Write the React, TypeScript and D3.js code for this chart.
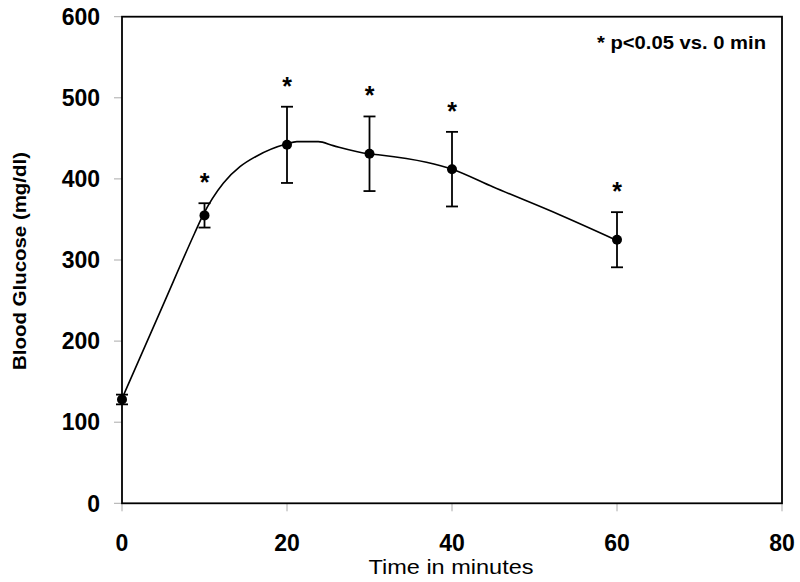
import React from 'react';
import * as d3 from 'd3';

// Measured data (mean ± SEM)
const times = [0, 10, 20, 30, 40, 60];
const meanGlucose = [128, 355, 442, 431, 412, 325];
const semGlucose = [6, 15, 47, 46, 46, 34];
const significant = [false, true, true, true, true, true];

// Smoothed trend line
const fitTimes = [0, 5, 8.8, 9.8, 12.3, 14.3, 16.3, 19.9, 21.2, 23.8, 25.6, 29.9, 31.3, 36.9, 40, 45, 53.1, 59.8];
const fitValues = [129, 245, 333, 355, 395, 415, 428, 443, 446, 446, 441, 431, 429.5, 420.5, 412, 390, 355.5, 325];

const xTicks = [0, 20, 40, 60, 80];
const yTicks = [0, 100, 200, 300, 400, 500, 600];

const xTitle = 'Time in minutes';
const yTitle = 'Blood Glucose (mg/dl)';
const note = '* p<0.05 vs. 0 min';

const W = 800;
const H = 582;
const left = 122;
const right = 782;
const top = 16.7;
const bottom = 503.3;

export default function App() {
  const x = d3.scaleLinear().domain([0, 80]).range([left, right]);
  const y = d3.scaleLinear().domain([0, 600]).range([bottom, top]);
  const line = d3
    .line<number>()
    .x((_, i) => x(fitTimes[i]))
    .y((d) => y(d))
    .curve(d3.curveMonotoneX);
  const font = 'Arial, "Liberation Sans", Helvetica, sans-serif';
  return (
    <svg
      width={W}
      height={H}
      style={{ position: 'absolute', left: 0, top: 0, background: '#fff' }}
      fontFamily={font}
    >
      <rect x={0} y={0} width={W} height={H} fill="#fff" />
      {/* ticks */}
      {yTicks.map((t) => (
        <line key={'yt' + t} x1={left - 8} x2={left} y1={y(t)} y2={y(t)} stroke="#aaa" strokeWidth={1} />
      ))}
      {xTicks.map((t) => (
        <line key={'xt' + t} x1={x(t)} x2={x(t)} y1={bottom} y2={bottom + 8} stroke="#aaa" strokeWidth={1} />
      ))}
      {/* frame */}
      <rect x={left} y={top} width={right - left} height={bottom - top} fill="none" stroke="#000" strokeWidth={1.8} />
      {/* tick labels */}
      {yTicks.map((t) => (
        <text key={'yl' + t} x={100} y={y(t) + 8.2} textAnchor="end" fontSize={23} fontWeight="bold" fill="#000">
          {t}
        </text>
      ))}
      {xTicks.map((t) => (
        <text key={'xl' + t} x={x(t)} y={551} textAnchor="middle" fontSize={23} fontWeight="bold" fill="#000">
          {t}
        </text>
      ))}
      {/* titles */}
      <text x={451} y={574} textAnchor="middle" fontSize={20} fill="#000" textLength={165} lengthAdjust="spacingAndGlyphs">
        {xTitle}
      </text>
      <text
        transform={`translate(26,261) rotate(-90)`}
        textAnchor="middle"
        fontSize={18}
        fontWeight="bold"
        fill="#000"
        textLength={218}
        lengthAdjust="spacingAndGlyphs"
      >
        {yTitle}
      </text>
      <text x={766} y={48.5} textAnchor="end" fontSize={18} fontWeight="bold" fill="#000" textLength={169} lengthAdjust="spacingAndGlyphs">
        {note}
      </text>
      {/* trend line */}
      <path d={line(fitValues) || ''} fill="none" stroke="#000" strokeWidth={1.6} />
      {/* error bars, points, stars */}
      {times.map((t, i) => {
        const cx = x(t);
        const hi = y(meanGlucose[i] + semGlucose[i]);
        const lo = y(meanGlucose[i] - semGlucose[i]);
        return (
          <g key={'p' + t}>
            <line x1={cx} x2={cx} y1={hi} y2={lo} stroke="#000" strokeWidth={1.8} />
            <line x1={cx - 6} x2={cx + 6} y1={hi} y2={hi} stroke="#000" strokeWidth={1.8} />
            <line x1={cx - 6} x2={cx + 6} y1={lo} y2={lo} stroke="#000" strokeWidth={1.8} />
            <circle cx={cx} cy={y(meanGlucose[i])} r={5} fill="#000" />
            {significant[i] && (
              <text x={cx} y={hi - 12} textAnchor="middle" fontSize={25} fontWeight="bold" fill="#000">
                *
              </text>
            )}
          </g>
        );
      })}
    </svg>
  );
}
